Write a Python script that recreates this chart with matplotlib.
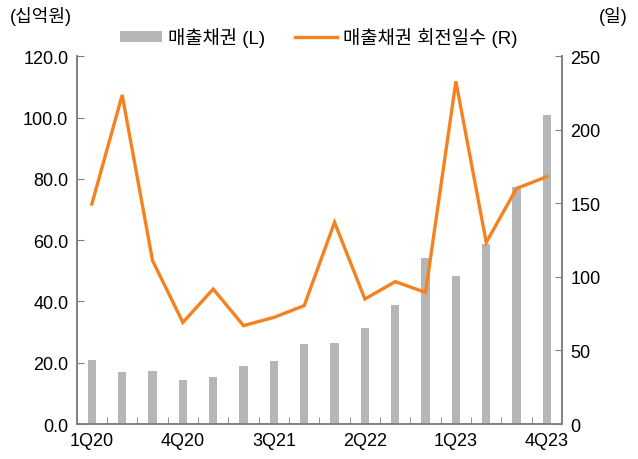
import matplotlib
matplotlib.use("Agg")
import matplotlib.pyplot as plt
import numpy as np

plt.rcParams['font.family'] = ['Liberation Sans', 'Noto Sans CJK KR', 'DejaVu Sans']

quarters = ['1Q20', '2Q20', '3Q20', '4Q20', '1Q21', '2Q21', '3Q21', '4Q21',
            '1Q22', '2Q22', '3Q22', '4Q22', '1Q23', '2Q23', '3Q23', '4Q23']
receivables = [21.0, 17.1, 17.2, 14.4, 15.3, 19.1, 20.5, 26.1,
               26.6, 31.4, 38.7, 54.3, 48.3, 58.8, 77.3, 100.9]
turnover_days = [149.6, 223.7, 111.1, 69.1, 91.8, 66.9, 72.5, 80.5,
                 137.1, 85.0, 96.8, 89.5, 233.0, 123.5, 160.2, 168.2]
label_quarters = ['1Q20', '4Q20', '3Q21', '2Q22', '1Q23', '4Q23']

bar_color = '#B5B6B8'
line_color = '#F5821F'
axis_color = '#808080'

fig = plt.figure(figsize=(6.38, 4.60), dpi=100)
ax = fig.add_axes([0.1202, 0.076, 0.7608, 0.7994])
ax2 = ax.twinx()

x = np.arange(len(quarters))
ax.bar(x, receivables, width=0.27, color=bar_color, label='매출채권 (L)', zorder=2)
ax2.plot(x, turnover_days, color=line_color, lw=2.4, label='매출채권 회전일수 (R)',
         solid_joinstyle='miter', zorder=3)
ax.set_zorder(1)
ax2.set_zorder(2)
ax.patch.set_visible(False)

ax.set_xlim(-0.5, len(quarters) - 0.5)
ax.set_ylim(0, 120)
ax2.set_ylim(0, 250)
ax.set_yticks(np.arange(0, 121, 20))
ax.set_yticklabels([f'{v:.1f}' for v in np.arange(0, 121, 20)])
ax2.set_yticks(np.arange(0, 251, 50))

pos = [quarters.index(q) for q in label_quarters]
ax.set_xticks(pos)
ax.set_xticklabels(label_quarters)
ax.set_xticks(np.arange(0.5, len(quarters) - 0.5, 1), minor=True)
ax.tick_params(axis='x', which='major', length=0, pad=6, labelsize=13)
ax.tick_params(axis='x', which='minor', direction='in', length=5, color=axis_color)
ax.tick_params(axis='y', direction='in', length=5, color=axis_color, labelsize=13, pad=6)
ax2.tick_params(axis='y', direction='in', length=5, color=axis_color, labelsize=13, pad=6)

for a in (ax, ax2):
    a.spines['top'].set_visible(False)
    for s in ('left', 'right', 'bottom'):
        a.spines[s].set_color(axis_color)
        a.spines[s].set_linewidth(1.2)

fig.text(10 / 638, 1 - 17 / 460, '(십억원)', fontsize=13, va='center', ha='left')
fig.text(628 / 638, 1 - 17 / 460, '(일)', fontsize=13, va='center', ha='right')

h1, l1 = ax.get_legend_handles_labels()
h2, l2 = ax2.get_legend_handles_labels()
fig.legend(h1 + h2, l1 + l2, loc='center', bbox_to_anchor=(0.5, 1 - 38 / 460), ncol=2,
           frameon=False, fontsize=13.5, handlelength=2.2, handleheight=0.5,
           columnspacing=1.6, handletextpad=0.35)

fig.savefig('out.png', dpi=100)
